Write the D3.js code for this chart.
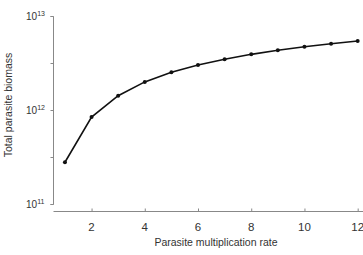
<!DOCTYPE html>
<html>
<head>
<meta charset="utf-8">
<script src="https://cdn.jsdelivr.net/npm/d3@7"></script>
<style>
  body { margin: 0; background: #fff; }
  text { font-family: "Liberation Sans", Arial, sans-serif; fill: #333; }
</style>
</head>
<body>
<div id="chart"></div>
<script>
// multiplication rate vs total biomass
const rates = [1, 2, 3, 4, 5, 6, 7, 8, 9, 10, 11, 12];
const biomass = [2.78e11, 8.4e11, 1.42e12, 1.99e12, 2.52e12, 3.01e12, 3.46e12, 3.91e12, 4.32e12, 4.71e12, 5.07e12, 5.42e12];
const xTickVals = [2, 4, 6, 8, 10, 12];
const yTickVals = [1e11, Math.pow(10, 11.5), 1e12, Math.pow(10, 12.5), 1e13];

const width = 363, height = 255;
const svg = d3.select('#chart').append('svg')
    .attr('width', width)
    .attr('height', height);

const x = d3.scaleLinear()
    .domain([0.57, 12.2])
    .range([53.5, 363]);

const y = d3.scaleLog()
    .domain([1e11, 1e13])
    .range([204, 16]);

// y axis
const yAxis = d3.axisLeft(y)
    .tickValues(yTickVals)
    .tickSize(3)
    .tickFormat('');
const gy = svg.append('g')
    .attr('transform', 'translate(53.5,0)')
    .call(yAxis);
gy.select('.domain').attr('d', 'M-3,16.5H0V204.5H-3').attr('stroke', '#888');
gy.selectAll('.tick line').attr('stroke', '#888');

// decade labels with superscript
[11, 12, 13].forEach(p => {
    const t = svg.append('text')
        .attr('x', 26)
        .attr('y', y(Math.pow(10, p)) + 4)
        .style('font-size', '10px');
    t.append('tspan').text('10');
    t.append('tspan').attr('dy', -4).style('font-size', '7px').text(p);
});

// x axis
const xAxis = d3.axisTop(x)
    .tickValues(xTickVals)
    .tickSize(3)
    .tickFormat('');
const gx = svg.append('g')
    .attr('transform', 'translate(0,211.5)')
    .call(xAxis);
gx.select('.domain').attr('d', 'M53.5,0H363').attr('stroke', '#888');
gx.selectAll('.tick line').attr('stroke', '#888');

svg.append('g').selectAll('text')
    .data(xTickVals)
    .enter().append('text')
        .attr('x', d => x(d))
        .attr('y', 231)
        .attr('text-anchor', 'middle')
        .style('font-size', '11.5px')
        .text(d => d);

svg.append('text')
    .attr('x', 216)
    .attr('y', 246)
    .attr('text-anchor', 'middle')
    .style('font-size', '10.5px')
    .text('Parasite multiplication rate');

svg.append('text')
    .attr('transform', 'translate(12,105) rotate(-90)')
    .attr('text-anchor', 'middle')
    .style('font-size', '10.5px')
    .text('Total parasite biomass');

// line + points
svg.append('path')
    .datum(rates)
    .attr('fill', 'none')
    .attr('stroke', '#111')
    .attr('stroke-width', 1.6)
    .attr('d', d3.line()
        .x(d => x(d))
        .y((d, i) => y(biomass[i])));

svg.selectAll('circle')
    .data(rates)
    .enter().append('circle')
        .attr('r', 2)
        .attr('cx', d => x(d))
        .attr('cy', (d, i) => y(biomass[i]))
        .attr('fill', '#111');
</script>
</body>
</html>
